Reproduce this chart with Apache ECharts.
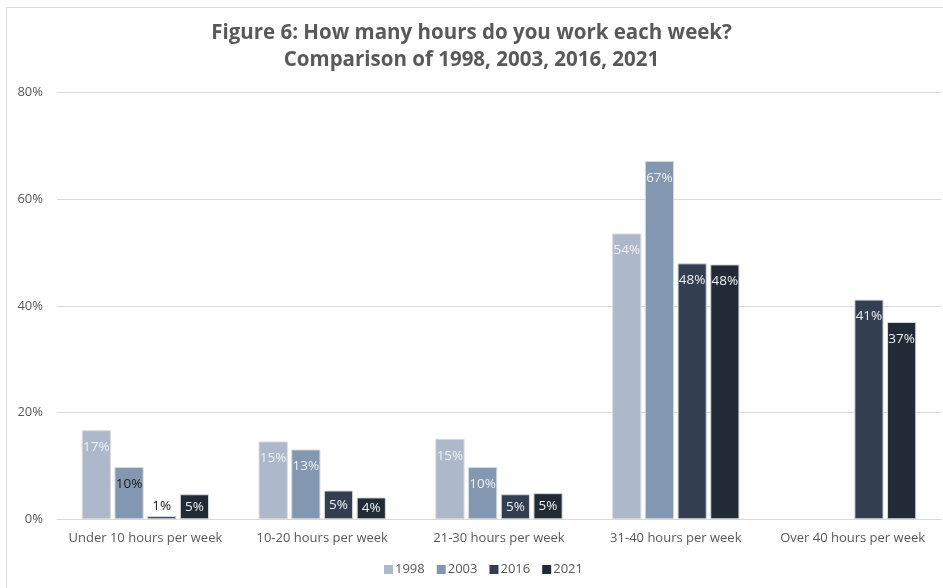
<!DOCTYPE html>
<html>
<head>
<meta charset="utf-8">
<style>
  html, body { margin: 0; padding: 0; background: #ffffff; }
  #chart { width: 943px; height: 588px; }
</style>
<script src="https://cdn.jsdelivr.net/npm/echarts@6/dist/echarts.min.js"></script>
</head>
<body>
<div id="chart"></div>
<script>
// Weekly hours worked, share of respondents per survey year (%)
const categories = [
  'Under 10 hours per week',
  '10-20 hours per week',
  '21-30 hours per week',
  '31-40 hours per week',
  'Over 40 hours per week'
];
const years = ['1998', '2003', '2016', '2021'];
const values1998 = [16.7, 14.6, 15.1, 53.6, null];
const values2003 = [9.8, 13.1, 9.8, 67.2, null];
const values2016 = [0.6, 5.4, 4.7, 48.0, 41.2];
const values2021 = [4.7, 4.1, 4.9, 47.8, 37.0];
const yTicks = [0, 20, 40, 60, 80];

const palette = ['#adb9ca', '#8497b0', '#333f50', '#222a35'];
const seriesValues = [values1998, values2003, values2016, values2021];

const FONT = '"Open Sans", "Noto Sans", sans-serif';
const TEXT_GREY = '#595959';

// Labels sit inside the top of each bar; short bars centre them,
// the tiniest bar puts its label above, and one bar uses dark text
function buildData(vals, seriesIdx) {
  return vals.map((v, i) => {
    if (v === null) return null;
    const item = { value: v };
    if (v < 2) {
      item.label = { position: 'top', color: '#1a1a1a', distance: 3 };
    } else if (v < 7) {
      item.label = { position: 'inside' };
    }
    if (seriesIdx === 1 && i === 0) {
      item.label = { color: '#1a1a1a' };
    }
    return item;
  });
}

const chart = echarts.init(document.getElementById('chart'));
chart.setOption({
  animation: false,
  backgroundColor: '#ffffff',
  textStyle: { fontFamily: FONT },
  graphic: [{
    type: 'rect',
    silent: true,
    shape: { x: 6.5, y: 7.5, width: 1200, height: 1200 },
    style: { fill: 'none', stroke: '#d9d9d9', lineWidth: 1 }
  }],
  title: {
    text: 'Figure 6: How many hours do you work each week?\nComparison of 1998, 2003, 2016, 2021',
    left: 'center',
    top: 15,
    textStyle: {
      fontFamily: FONT,
      fontWeight: 'bold',
      fontSize: 20.5,
      lineHeight: 27,
      color: TEXT_GREY
    }
  },
  legend: {
    data: years,
    bottom: 7,
    left: 379,
    itemWidth: 9,
    itemHeight: 9,
    itemGap: 12,
    icon: 'rect',
    itemStyle: { borderWidth: 0 },
    textStyle: { fontFamily: FONT, fontSize: 13, color: TEXT_GREY, padding: [0, 0, 0, -3] }
  },
  grid: {
    left: 57,
    right: 2,
    top: 92.7,
    bottom: 68.7,
    containLabel: false
  },
  xAxis: {
    type: 'category',
    data: categories,
    axisTick: { show: false },
    axisLine: { lineStyle: { color: '#d9d9d9', width: 1 } },
    axisLabel: {
      fontFamily: FONT,
      fontSize: 13,
      color: TEXT_GREY,
      margin: 12,
      interval: 0
    }
  },
  yAxis: {
    type: 'value',
    min: yTicks[0],
    max: yTicks[yTicks.length - 1],
    interval: yTicks[1] - yTicks[0],
    axisLine: { show: false },
    axisTick: { show: false },
    splitLine: { lineStyle: { color: '#d9d9d9', width: 1 } },
    axisLabel: {
      fontFamily: FONT,
      fontSize: 13,
      color: TEXT_GREY,
      margin: 14,
      formatter: '{value}%'
    }
  },
  series: years.map((yr, s) => ({
    name: yr,
    type: 'bar',
    data: buildData(seriesValues[s], s),
    barGap: '12%',
    barCategoryGap: '28%',
    itemStyle: {
      color: palette[s],
      borderColor: '#d6dae0',
      borderWidth: 1
    },
    label: {
      show: true,
      position: 'insideTop',
      distance: 10,
      fontFamily: FONT,
      fontSize: 13.5,
      color: '#eef0f3',
      formatter: p => Math.round(p.value) + '%'
    }
  }))
});
</script>
</body>
</html>
